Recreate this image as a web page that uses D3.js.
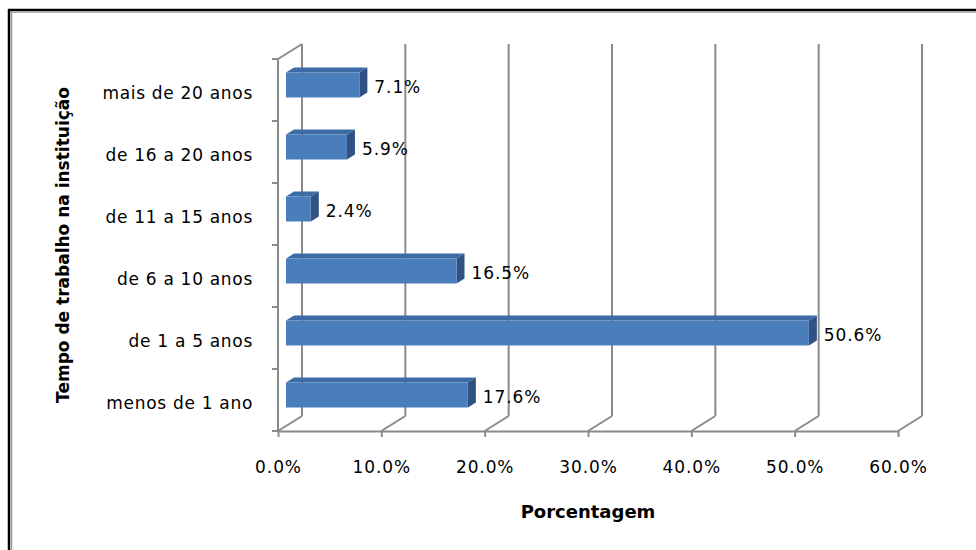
<!DOCTYPE html>
<html>
<head>
<meta charset="utf-8">
<script src="https://cdn.jsdelivr.net/npm/d3@7"></script>
<style>
  html, body { margin: 0; padding: 0; background: #fff; }
  svg { display: block; }
  text { font-family: "DejaVu Sans", sans-serif; fill: #000; }
</style>
</head>
<body>
<svg id="chart" width="976" height="550"></svg>
<script>
// Tempo de trabalho na instituição (%)
const categories = ["mais de 20 anos", "de 16 a 20 anos", "de 11 a 15 anos", "de 6 a 10 anos", "de 1 a 5 anos", "menos de 1 ano"];
const values = [7.1, 5.9, 2.4, 16.5, 50.6, 17.6];
const tickValues = [0, 10, 20, 30, 40, 50, 60];
const xTitle = "Porcentagem";
const yTitle = "Tempo de trabalho na instituição";

const W = 976, H = 550;
const svg = d3.select("#chart");

// front plane of the 3-D plot box
const x = d3.scaleLinear().domain([0, 60]).range([278, 898]);
const y = d3.scaleBand().domain(categories).range([59, 431]).paddingInner(0).paddingOuter(0);
const DX = 24, DY = -15;           // depth of the box
const bdx = DX / 3, bdy = DY / 3;   // bars sit in the middle third of the depth
const barH = 25;
const fmt = d => d.toFixed(1) + "%";

const gridColor = "#8a8a8a";

// outer frame
const frame = svg.append("g");
frame.append("line").attr("x1", 9).attr("y1", 9).attr("x2", 9).attr("y2", H)
  .attr("stroke", "#000").attr("stroke-width", 2.5);
frame.append("line").attr("x1", 11.5).attr("y1", 11.5).attr("x2", 11.5).attr("y2", H)
  .attr("stroke", "#9a9a9a").attr("stroke-width", 1.5);
frame.append("line").attr("x1", 8).attr("y1", 10).attr("x2", W).attr("y2", 10)
  .attr("stroke", "#000").attr("stroke-width", 2.5);
frame.append("line").attr("x1", 11).attr("y1", 12.2).attr("x2", W).attr("y2", 12.2)
  .attr("stroke", "#9a9a9a").attr("stroke-width", 1.2);

// back-wall gridlines and floor diagonals
const grid = svg.append("g").attr("stroke", gridColor).attr("stroke-width", 2).attr("fill", "none");
const yTop = y.range()[0], yBot = y.range()[1];
tickValues.forEach(v => {
  grid.append("line")
    .attr("x1", x(v) + DX).attr("y1", yTop + DY)
    .attr("x2", x(v) + DX).attr("y2", yBot + DY);
  grid.append("line")
    .attr("x1", x(v)).attr("y1", yBot)
    .attr("x2", x(v) + DX).attr("y2", yBot + DY);
});
// left wall: front edge and top edge
grid.append("line").attr("x1", x(0)).attr("y1", yTop).attr("x2", x(0)).attr("y2", yBot);
grid.append("line").attr("x1", x(0)).attr("y1", yTop).attr("x2", x(0) + DX).attr("y2", yTop + DY);
// category boundary ticks
const bounds = categories.map(c => y(c)).concat([yBot]);
bounds.forEach(b => {
  grid.append("line").attr("x1", x(0) - 6).attr("y1", b).attr("x2", x(0)).attr("y2", b);
});

// bottom axis
const xAxis = d3.axisBottom(x).tickValues(tickValues).tickFormat(fmt)
  .tickSize(6).tickSizeOuter(0).tickPadding(24);
const gx = svg.append("g").attr("transform", `translate(0,${yBot})`).call(xAxis);
gx.select(".domain").attr("stroke", gridColor).attr("stroke-width", 2);
gx.selectAll(".tick line").attr("stroke", gridColor).attr("stroke-width", 2);
gx.selectAll(".tick text").attr("font-family", "DejaVu Sans").attr("font-size", 17)
  .attr("letter-spacing", 0.9).attr("fill", "#000");

// left axis labels
const yAxis = d3.axisLeft(y).tickSize(0).tickPadding(25);
const gy = svg.append("g").attr("transform", `translate(${x(0)},0)`).call(yAxis);
gy.select(".domain").remove();
gy.selectAll(".tick text").attr("font-family", "DejaVu Sans").attr("font-size", 17)
  .attr("letter-spacing", 0.7).attr("dy", "0.5em").attr("fill", "#000");

// 3-D bars
const bars = svg.append("g");
categories.forEach((c, i) => {
  const v = values[i];
  const cy = y(c) + y.bandwidth() / 2 + bdy;
  const x0 = x(0) + bdx, x1 = x(v) + bdx;
  const yt = cy - barH / 2, yb = cy + barH / 2;
  // top face
  bars.append("polygon")
    .attr("points", [[x0, yt], [x1, yt], [x1 + bdx, yt + bdy], [x0 + bdx, yt + bdy]].map(p => p.join(",")).join(" "))
    .attr("fill", "#3d6ba5");
  // side face
  bars.append("polygon")
    .attr("points", [[x1, yt], [x1 + bdx, yt + bdy], [x1 + bdx, yb + bdy], [x1, yb]].map(p => p.join(",")).join(" "))
    .attr("fill", "#2f5283");
  // front face
  bars.append("rect")
    .attr("x", x0).attr("y", yt).attr("width", x1 - x0).attr("height", barH)
    .attr("fill", "#4a7ebb");
  // value label
  bars.append("text")
    .attr("x", x1 + 15).attr("y", cy + 2)
    .attr("dominant-baseline", "central")
    .attr("font-size", 17).attr("letter-spacing", 0.9)
    .text(fmt(v));
});

// axis titles
svg.append("text")
  .attr("x", 588).attr("y", 518)
  .attr("text-anchor", "middle")
  .attr("font-size", 18).attr("font-weight", "bold")
  .text(xTitle);
svg.append("text")
  .attr("transform", "translate(69,245) rotate(-90)")
  .attr("text-anchor", "middle")
  .attr("font-size", 17).attr("font-weight", "bold")
  .text(yTitle);
</script>
</body>
</html>
